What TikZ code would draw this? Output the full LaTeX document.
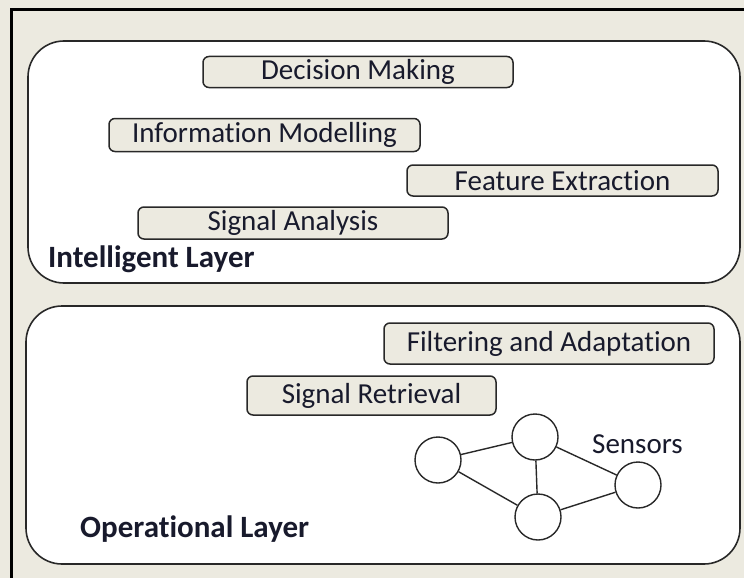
\documentclass[tikz,border=0pt]{standalone}
\usepackage{fontspec}
\setmainfont{Carlito}[Ligatures=NoCommon]
\definecolor{bg}{RGB}{236,234,224}
\definecolor{txt}{RGB}{24,26,44}
\definecolor{edge}{RGB}{40,40,40}
\begin{document}
\begin{tikzpicture}[x=1pt,y=-1pt,
  layer/.style={draw=edge,line width=1.6pt,fill=white,rounded corners=36pt},
  func/.style={draw=edge,line width=1.5pt,fill=bg,rounded corners=6pt,inner sep=0pt,
     text=txt,font=\fontsize{29}{32}\selectfont},
  lbl/.style={anchor=base west,inner sep=0pt,text=txt,font=\fontsize{31}{34}\selectfont\bfseries},
  sensor/.style={draw=edge,line width=1.4pt,circle,minimum size=46pt,inner sep=0pt,fill=white},
  link/.style={draw=edge,line width=1.4pt}]
\useasboundingbox (0,0) rectangle (744,578);
\fill[bg] (0,0) rectangle (744,578);
\draw[black,line width=3pt] (11,600) -- (11,10) -- (760,10);
% layers
\draw[layer] (28,41) rectangle (740,283);
\draw[layer] (26,306) rectangle (740,564);
% intelligent layer functions
\node[func,minimum width=310pt,minimum height=31pt] (dm) at (358,72) {Decision Making};
\node[func,minimum width=311pt,minimum height=33pt] (im) at (264.5,135) {Information Modelling};
\node[func,minimum width=311pt,minimum height=31pt] (fe) at (562.5,180.5) {Feature Extraction};
\node[func,minimum width=310pt,minimum height=32pt] (sa) at (293,223) {Signal Analysis};
\node[lbl] (il) at (48,267) {Intelligent Layer};
% operational layer functions
\node[func,minimum width=330pt,minimum height=41pt] (fa) at (549,343.5) {Filtering and Adaptation};
\node[func,minimum width=249pt,minimum height=39pt] (sr) at (371.5,395.5) {Signal Retrieval};
\node[lbl] (ol) at (80,537) {Operational Layer};
% sensors
\node[sensor] (c1) at (438,460) {};
\node[sensor] (c2) at (535,437) {};
\node[sensor] (c3) at (538,517) {};
\node[sensor] (c4) at (638,485) {};
\draw[link] (c1) -- (c2);
\draw[link] (c1) -- (c3);
\draw[link] (c2) -- (c3);
\draw[link] (c2) -- (c4);
\draw[link] (c3) -- (c4);
\node[anchor=base west,inner sep=0pt,text=txt,font=\fontsize{29}{32}\selectfont] (sn) at (592,453) {Sensors};
\end{tikzpicture}
\end{document}
